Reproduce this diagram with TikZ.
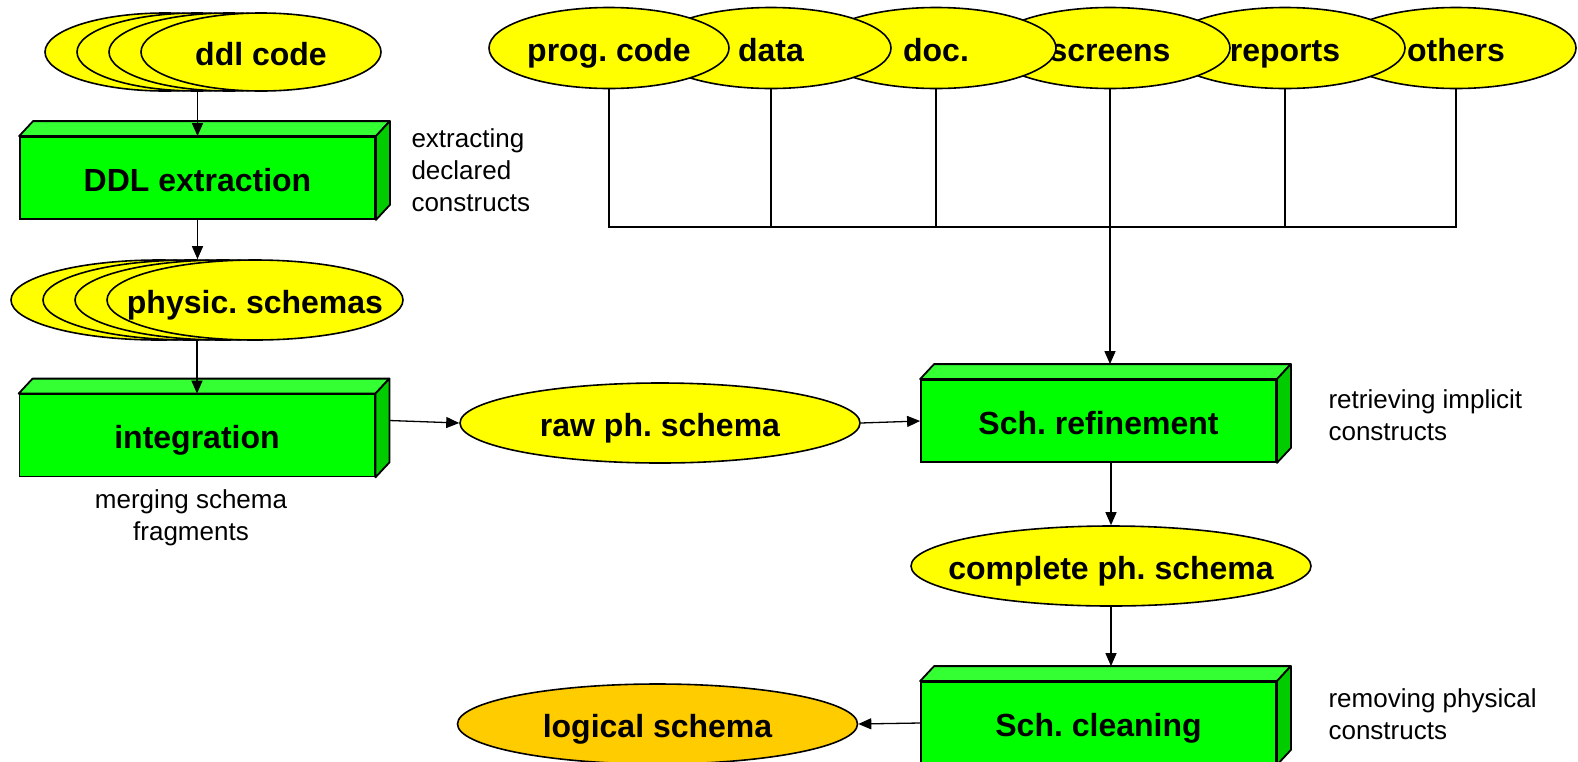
\documentclass[tikz,border=0pt]{standalone}
\usepackage{fontspec}
\setmainfont{Liberation Sans}
\usetikzlibrary{shapes.geometric,arrows.meta}

\definecolor{ellyellow}{HTML}{FFFF00}
\definecolor{boxgreen}{HTML}{00FF00}
\definecolor{boxtop}{HTML}{33FF33}
\definecolor{boxside}{HTML}{00CC00}
\definecolor{logorange}{HTML}{FFCC00}

\tikzset{
  product/.style={ellipse, draw, fill=ellyellow, line width=1.6pt, inner xsep=-40pt,
    inner ysep=-10pt, text height=33pt, text depth=7pt,
    minimum width=#1, minimum height=80pt, font=\fontsize{32}{38}\selectfont\bfseries},
  product/.default=400pt,
  process/.style={draw, fill=boxgreen, line width=1.8pt, minimum width=355pt,
    minimum height=82pt, inner ysep=0pt, text height=33pt, text depth=7pt,
    font=\fontsize{32}{38}\selectfont\bfseries},
  boxface/.style={draw, line width=1.8pt, line join=round},
  note/.style={align=left, font=\fontsize{26}{32}\selectfont},
  flow/.style={line width=1.3pt, -{Triangle[length=13pt,width=11pt]}},
  link/.style={line width=1.3pt},
}

\begin{document}
\frenchspacing
\begin{tikzpicture}[x=1pt, y=1pt]
  \useasboundingbox (0,0) rectangle (1578,-761);

  % Define nodes for the stacked inputs
  \foreach \i/\x in {3/165,2/197,1/229}
    \node[product=240pt, minimum height=78pt] (ddlcode\i) at (\x,-52) {};
  \node[product=240pt, minimum height=78pt] (ddlcode) at (261,-52) {ddl code};
  \foreach \i/\x in {3/159,2/191,1/223}
    \node[product=296pt] (physic\i) at (\x,-300) {};
  \node[product=296pt] (physic) at (255,-300) {physic. schemas};

  % Sources, right to left so each one lies over its right neighbour
  \node[product=240pt, minimum height=81pt] (others) at (1456,-48) {others};
  \node[product=240pt, minimum height=81pt] (reports) at (1285,-48) {reports};
  \node[product=240pt, minimum height=81pt] (screens) at (1110,-48) {screens};
  \node[product=240pt, minimum height=81pt] (doc) at (936,-48) {doc.};
  \node[product=240pt, minimum height=81pt] (data) at (771,-48) {data};
  \node[product=240pt, minimum height=81pt] (progcode) at (609,-48) {prog. code};

  % Processes
  \node[process] (ddl) at (197.5,-178) {DDL extraction};
  \node[process] (integ) at (197,-435.5) {integration};
  \node[process] (refine) at (1098.5,-421) {Sch. refinement};
  \node[process] (clean) at (1098.5,-723) {Sch. cleaning};
  \foreach \b in {ddl,integ,refine,clean} {
    \path[boxface, fill=boxtop] (\b.north west) -- ++(14,15)
      -- ([shift={(14,15)}]\b.north east) -- (\b.north east) -- cycle;
    \path[boxface, fill=boxside] (\b.north east) -- ++(14,15)
      -- ([shift={(14,15)}]\b.south east) -- (\b.south east) -- cycle;
  }

  % Schemas
  \node[product] (raw) at (660,-423) {raw ph. schema};
  \node[product] (complete) at (1111,-566) {complete ph. schema};
  \node[product, fill=logorange] (logical) at (657.5,-724) {logical schema};

  % Notes
  \node[note, anchor=west] (ddlnote) at (408,-170) {extracting\\declared\\constructs};
  \node[note, align=center] (integnote) at (191,-518) {merging schema\\fragments};
  \node[note, anchor=west] (refinenote) at (1325,-415) {retrieving implicit\\constructs};
  \node[note, anchor=west] (cleannote) at (1325,-714) {removing physical\\constructs};

  \coordinate (bus) at (0,-227);
  \coordinate (refinetop) at ([shift={(7,15)}]refine.north);
  \coordinate (cleantop) at ([shift={(7,15)}]clean.north);

  % Source lines
  \draw[link] (progcode.south) -- (progcode.south |- bus) -- (others.south |- bus) -- (others.south);
  \foreach \s in {data,doc,reports}
    \draw[link] (\s.south) -- (\s.south |- bus);

  % Draw arrows
  \draw[flow] (ddl.north |- ddlcode.south) -- (ddl.north);
  \draw[flow] (ddl.south) -- (ddl.south |- physic.north);
  \draw[flow] (integ.north |- physic.south) -- (integ.north);
  \draw[flow] ([shift={(14,15)}]integ.east) -- (raw.west);
  \draw[flow] (raw.east) -- (refine.west);
  \draw[flow] (screens.south) -- (screens.south |- refinetop);
  \draw[flow] (complete.north |- refine.south) -- (complete.north);
  \draw[flow] (complete.south) -- (complete.south |- cleantop);
  \draw[flow] (clean.west) -- (logical.east);
\end{tikzpicture}
\end{document}
